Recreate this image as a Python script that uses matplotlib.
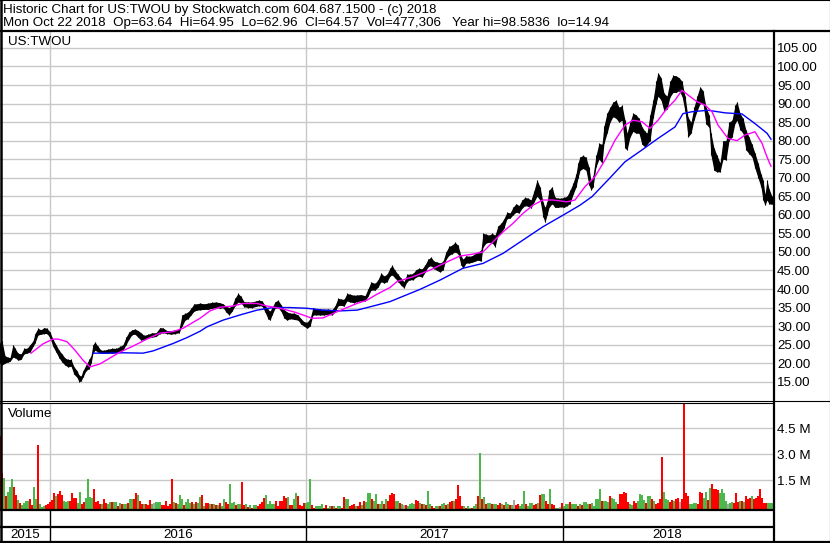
import numpy as np
import matplotlib
matplotlib.use("Agg")
import matplotlib.pyplot as plt

plt.rcParams['font.family'] = ['Liberation Sans', 'DejaVu Sans']

W, H = 830, 543

title_line1 = "Historic Chart for US:TWOU by Stockwatch.com 604.687.1500 - (c) 2018"
title_line2 = ("Mon Oct 22 2018  Op=63.64  Hi=64.95  Lo=62.96  Cl=64.57  "
               "Vol=477,306   Year hi=98.5836  lo=14.94")
symbol = "US:TWOU"

# trading-day index of first session of each year (chart starts mid Oct 2015)
year_labels = ["2015", "2016", "2017", "2018"]
year_starts = [50, 306, 563]
last_day = 772

# daily price envelope (day index, high, low)
price_days = [0, 2, 5, 8, 10, 13, 15, 18, 21, 24, 27, 30, 33, 35, 38, 41, 44, 47, 50, 53,
              56, 59, 62, 65, 68, 71, 74, 77, 79, 81, 83, 86, 89, 91, 93, 95, 98, 101, 104, 108,
              112, 116, 120, 123, 126, 129, 132, 135, 138, 141, 144, 148, 152, 156, 160, 163, 167, 171, 175, 179,
              182, 185, 188, 191, 194, 197, 200, 204, 208, 212, 216, 220, 223, 226, 229, 232, 235, 238, 241, 244,
              248, 252, 256, 259, 262, 265, 268, 270, 272, 275, 278, 281, 284, 287, 290, 294, 298, 301, 304, 307,
              310, 313, 316, 320, 324, 328, 332, 335, 338, 341, 344, 347, 350, 354, 357, 361, 365, 368, 371, 375,
              378, 381, 384, 387, 390, 392, 395, 398, 401, 404, 407, 410, 413, 416, 419, 422, 425, 428, 431, 434,
              437, 440, 443, 446, 449, 452, 455, 458, 461, 463, 466, 469, 472, 475, 478, 481, 483, 486, 489, 492,
              495, 498, 501, 504, 507, 510, 513, 516, 519, 522, 525, 528, 531, 534, 537, 540, 543, 545, 547, 549,
              552, 555, 558, 561, 564, 567, 570, 573, 576, 578, 580, 583, 586, 589, 591, 593, 596, 599, 602, 604,
              607, 610, 613, 616, 619, 622, 625, 627, 630, 633, 636, 639, 642, 645, 647, 650, 653, 656, 658, 661,
              664, 667, 670, 673, 676, 679, 682, 685, 688, 691, 694, 697, 700, 703, 706, 709, 711, 714, 717, 720,
              723, 726, 729, 732, 735, 737, 740, 743, 746, 749, 752, 755, 758, 761, 763, 765, 767, 769, 772]
price_hi = [25.5, 26.0, 22.0, 21.6, 21.5, 25.0, 24.0, 22.7, 22.5, 24.0, 24.0, 25.0, 26.0, 28.0, 29.4, 29.0, 29.6, 29.4, 28.4, 26.4,
            25.0, 23.5, 22.5, 21.4, 21.0, 21.0, 19.0, 18.0, 16.8, 16.5, 18.0, 19.5, 21.0, 22.0, 25.0, 25.7, 24.5, 23.5, 23.5, 23.8,
            24.0, 24.0, 24.5, 25.0, 27.0, 28.4, 29.0, 29.2, 28.8, 28.2, 27.5, 27.8, 28.2, 28.2, 29.6, 29.5, 28.8, 28.8, 29.0, 29.2,
            33.0, 33.4, 33.8, 34.8, 36.0, 36.0, 36.2, 36.0, 36.2, 36.4, 36.5, 36.3, 36.0, 35.4, 35.0, 35.5, 37.5, 38.8, 38.0, 36.6,
            36.5, 36.5, 36.8, 37.0, 36.8, 35.6, 34.5, 34.0, 35.0, 36.5, 37.0, 35.8, 34.5, 33.8, 33.5, 33.5, 33.0, 32.0, 31.2, 31.0,
            32.0, 35.0, 34.6, 34.6, 34.5, 34.6, 34.4, 35.5, 37.5, 37.3, 37.2, 38.8, 38.6, 38.3, 38.4, 38.5, 38.2, 40.0, 41.9, 41.5,
            42.5, 44.3, 43.5, 44.0, 45.6, 46.4, 45.0, 44.0, 42.9, 42.0, 44.0, 44.0, 44.2, 45.2, 45.6, 45.4, 46.5, 48.0, 48.6, 47.5,
            47.3, 47.0, 47.5, 50.0, 51.5, 51.8, 52.6, 51.8, 49.0, 48.0, 49.0, 48.8, 49.0, 49.5, 50.0, 50.5, 55.0, 54.8, 54.5, 55.0,
            54.5, 57.0, 57.7, 59.0, 60.7, 60.5, 62.0, 63.0, 62.5, 64.0, 64.7, 64.5, 64.0, 66.5, 69.4, 67.5, 63.4, 62.0, 63.5, 66.6,
            67.6, 64.7, 64.5, 64.5, 64.7, 65.0, 66.6, 68.5, 71.0, 74.0, 75.6, 76.0, 75.5, 72.8, 69.0, 70.5, 76.0, 79.3, 79.0, 84.0,
            87.4, 89.0, 90.4, 90.9, 89.0, 89.5, 85.5, 82.0, 85.0, 87.4, 87.0, 86.0, 83.7, 82.5, 82.0, 87.0, 90.9, 96.0, 98.3, 97.0,
            92.8, 92.0, 96.0, 97.6, 97.5, 97.0, 96.0, 92.0, 86.3, 85.0, 89.0, 92.0, 94.5, 93.5, 89.0, 87.0, 82.0, 78.0, 76.0, 74.0,
            80.0, 80.0, 85.0, 85.5, 89.5, 90.5, 87.4, 86.0, 82.8, 81.0, 79.0, 76.6, 74.0, 71.0, 69.4, 65.5, 69.4, 67.0, 65.0]
price_lo = [20.0, 19.5, 20.0, 20.3, 20.5, 21.6, 21.5, 20.8, 21.0, 22.5, 22.7, 23.0, 24.5, 25.5, 27.6, 27.8, 28.0, 28.0, 26.8, 24.5,
            23.0, 21.5, 20.3, 19.5, 19.0, 19.2, 17.0, 16.2, 15.0, 15.2, 16.3, 18.0, 18.5, 20.0, 22.7, 23.5, 23.0, 22.7, 22.7, 22.8,
            22.7, 22.9, 23.0, 23.5, 25.0, 26.5, 27.7, 27.8, 27.0, 26.2, 26.4, 26.8, 27.0, 27.2, 28.0, 28.2, 28.0, 27.8, 28.0, 28.2,
            30.0, 31.6, 32.0, 33.0, 34.0, 34.3, 34.4, 34.5, 34.5, 34.8, 35.0, 34.8, 35.0, 33.8, 33.0, 34.0, 35.5, 36.5, 36.2, 35.2,
            35.0, 35.0, 35.3, 35.5, 35.4, 33.8, 32.0, 31.6, 33.0, 34.8, 35.0, 34.0, 32.2, 31.6, 32.0, 31.8, 31.6, 30.5, 30.0, 29.4,
            30.0, 33.0, 33.0, 33.0, 33.0, 33.2, 33.0, 33.8, 35.5, 35.6, 35.4, 36.8, 36.5, 36.3, 36.6, 36.8, 36.8, 38.0, 39.7, 39.7,
            40.5, 42.0, 41.6, 42.0, 43.5, 43.8, 43.0, 42.0, 41.0, 40.3, 42.0, 42.5, 42.5, 43.2, 43.5, 43.2, 44.5, 46.0, 46.3, 45.5,
            45.0, 44.6, 45.2, 48.0, 49.1, 49.5, 50.0, 49.5, 46.5, 45.6, 47.0, 47.0, 47.2, 47.5, 47.8, 47.5, 51.3, 52.4, 52.6, 52.5,
            51.4, 54.5, 55.0, 56.5, 59.0, 59.1, 60.0, 60.7, 60.5, 61.8, 62.5, 62.3, 61.8, 63.5, 65.0, 64.0, 59.5, 58.0, 60.0, 62.0,
            63.0, 62.0, 62.0, 62.2, 62.0, 62.5, 63.0, 65.5, 67.5, 70.0, 72.0, 72.5, 72.0, 68.0, 66.7, 67.5, 73.0, 75.0, 74.0, 79.3,
            82.0, 85.0, 86.5, 86.0, 85.0, 85.5, 78.0, 77.5, 81.0, 82.5, 82.0, 82.0, 79.0, 78.3, 79.0, 80.0, 86.0, 90.0, 92.0, 91.0,
            88.0, 88.5, 91.8, 93.0, 93.0, 93.5, 92.0, 88.0, 81.0, 82.0, 85.6, 88.0, 90.0, 90.0, 84.5, 83.6, 76.0, 72.0, 71.6, 71.6,
            75.0, 74.8, 80.0, 81.0, 84.7, 85.5, 83.0, 82.0, 77.5, 76.5, 75.6, 72.5, 70.0, 67.5, 64.0, 62.6, 64.0, 63.0, 62.8]

# short moving average (magenta)
ma_short_days = [31, 43, 53, 58, 67, 75, 83, 90, 100, 110, 120, 133, 147, 160, 173, 183, 193, 200, 210, 220,
                 233, 243, 257, 267, 280, 293, 303, 312, 323, 333, 347, 357, 367, 377, 390, 397, 413, 430, 447, 460,
                 473, 483, 493, 503, 513, 523, 533, 543, 553, 567, 575, 585, 595, 605, 615, 625, 633, 642, 650, 658,
                 667, 675, 682, 688, 697, 705, 712, 718, 728, 737, 745, 755, 762, 767, 771]
ma_short = [22.7, 25.2, 26.5, 26.5, 25.8, 23.5, 20.8, 19.0, 19.8, 21.4, 23.0, 24.6, 26.5, 28.1, 28.5, 29.4, 31.0, 32.1, 34.1, 35.1,
            35.4, 36.1, 36.1, 35.4, 34.8, 33.9, 33.0, 32.1, 32.2, 33.4, 35.0, 36.1, 37.0, 38.6, 40.4, 42.0, 43.3, 45.1, 47.3, 48.9,
            49.4, 50.0, 52.7, 55.4, 57.7, 60.4, 62.6, 64.0, 64.0, 63.5, 64.0, 67.6, 70.3, 74.8, 80.1, 84.2, 85.5, 85.1, 83.3, 85.5,
            88.7, 90.9, 93.6, 92.3, 90.5, 89.6, 87.8, 84.2, 80.6, 80.0, 81.5, 82.4, 79.3, 75.6, 73.1]

# long moving average (blue)
ma_long_days = [93, 110, 123, 143, 153, 163, 173, 187, 200, 207, 223, 240, 257, 273, 290, 307, 323, 340, 357, 373,
                390, 420, 440, 463, 483, 503, 523, 543, 563, 580, 592, 608, 625, 642, 658, 675, 683, 692, 708, 725,
                742, 755, 767, 771]
ma_long = [22.7, 22.7, 22.8, 22.7, 23.3, 24.3, 25.3, 26.9, 28.6, 29.8, 31.6, 33.0, 34.3, 35.0, 35.0, 34.8, 34.3, 34.1, 34.3, 35.4,
           36.6, 39.9, 42.4, 45.6, 46.9, 49.6, 53.2, 56.8, 59.9, 62.6, 64.9, 69.4, 74.3, 77.5, 80.6, 83.7, 87.3, 87.8, 88.2, 87.5,
           87.2, 84.6, 82.0, 80.4]

# volume in millions, one bar every second session
volume_m = [4.2, 2.1, 1.8, 0.75, 1.0, 1.3, 1.75, 1.3, 0.83, 0.52,
            0.37, 0.21, 0.37, 0.44, 0.46, 0.6, 0.25, 1.29, 0.6, 3.7,
            0.27, 0.13, 0.17, 0.25, 0.27, 0.4, 0.52, 0.94, 0.75, 0.85,
            1.04, 0.79, 0.46, 0.4, 0.44, 0.46, 0.94, 0.65, 0.65, 0.37,
            0.98, 0.27, 0.4, 0.65, 1.71, 0.71, 0.65, 1.17, 0.4, 0.46,
            0.27, 0.27, 0.6, 0.37, 0.27, 0.4, 0.4, 0.4, 0.4, 0.17,
            0.33, 0.27, 0.31, 0.31, 0.33, 0.56, 0.6, 0.6, 0.94, 0.79,
            0.46, 0.31, 0.29, 0.29, 0.25, 0.52, 0.27, 0.33, 0.4, 0.4,
            0.4, 0.25, 0.25, 0.46, 0.17, 0.27, 1.75, 0.4, 0.33, 0.27,
            0.79, 0.6, 0.21, 0.4, 0.6, 0.33, 0.4, 0.27, 0.4, 0.37,
            0.71, 0.79, 0.17, 0.33, 0.33, 0.27, 0.27, 0.27, 0.21, 0.21,
            0.37, 0.17, 0.6, 0.4, 0.27, 1.42, 0.37, 0.4, 0.21, 0.27,
            0.27, 1.58, 0.21, 0.27, 0.13, 0.21, 0.08, 0.21, 0.21,
            0.17, 0.27, 0.4, 0.65, 0.8, 0.27, 0.46, 0.31, 0.31, 0.46,
            0.17, 0.46, 0.46, 0.75, 0.65, 0.71, 0.25, 0.25, 0.56, 0.94,
            0.75, 0.21, 0.17, 0.37, 0.37, 0.4, 1.71, 0.25, 0.08, 0.17,
            0.17, 0.17, 0.31, 0.08, 0.25, 0.08, 0.17, 0.17, 0.17, 0.08,
            0.17, 0.17, 0.08, 0.71, 0.6, 0.6, 0.17, 0.25, 0.31, 0.17,
            0.17, 0.4, 0.21, 0.46, 0.4, 0.94, 0.9, 0.6, 0.46, 0.88,
            0.27, 0.27, 0.46, 0.31, 0.6, 0.46, 0.79, 0.94, 0.85, 0.46,
            0.46, 0.37, 0.27, 0.21, 0.21, 0.17, 0.27, 0.37, 0.27, 0.52,
            0.46, 0.37, 0.27, 0.27, 0.21, 1.04, 0.27, 0.17, 0.08, 0.17,
            0.17, 0.17, 0.27, 0.37, 0.21, 0.27, 0.4, 0.46, 0.46, 0.56,
            1.37, 0.75, 0.17, 0.17, 0.08, 0.17, 0.08, 0.08, 0.17, 0.27,
            0.75, 3.25, 0.6, 0.71, 0.31, 0.37, 0.33, 0.31, 0.27, 0.31,
            0.21, 0.37, 0.27, 0.21, 0.4, 0.27, 0.21, 0.21, 0.52, 0.21,
            0.27, 0.17, 0.27, 1.04, 0.27, 0.17, 0.37, 0.33, 0.21, 0.27,
            0.37, 0.79, 0.85, 0.88, 0.46, 0.27, 1.13, 0.27, 0.21, 0.08,
            0.08, 0.13, 0.37, 0.17, 0.27, 0.27, 0.4, 0.27, 0.31, 0.27,
            0.17, 0.31, 0.21, 0.4, 0.4, 0.27, 0.27, 0.37, 0.17, 0.6,
            0.6, 1.17, 0.46, 0.44, 0.44, 0.4, 0.75, 0.65, 0.56, 0.4,
            0.31, 0.85, 0.85, 0.98, 0.94, 0.4, 0.27, 0.21, 0.46, 0.37,
            0.46, 0.85, 0.79, 0.52, 0.37, 0.75, 0.75, 0.56, 0.46, 0.27,
            0.37, 0.56, 3.0, 0.98, 0.56, 0.52, 0.4, 0.52, 0.46, 0.6,
            0.65, 0.4, 0.56, 6.5, 0.94, 0.75, 0.27, 0.31, 0.37, 0.33,
            0.27, 0.98, 0.94, 0.65, 0.98, 0.52, 1.23, 1.42, 1.13, 1.13,
            1.1, 0.9, 1.13, 0.94, 0.46, 0.27, 0.33, 0.4, 0.37, 0.9,
            0.4, 0.46, 0.46, 0.4, 0.75, 0.56, 0.65, 0.75, 0.6, 0.65,
            0.75, 1.13, 0.65, 0.37, 0.37, 0.37, 0.37, 0.37]
# r = down day, g = up day, k = unchanged
volume_dir = ("rrgrgggrrg" "rggggrrggr" "gggrrrrrgr" "rrgggrrrrg" "grrggggrrr"
              "rgrrggrggr" "grggrggrrg" "rrgrrrgkgg" "grrrrrrgrg" "ggrgggrgrg"
              "grgrrgrgrg" "rggrrgggrg" "grrgrgrgg"
              "rrrrgggggr" "rrrrrgrrgg" "rrrrgggrrg" "gggrrggrgr" "ggrrggrrrg"
              "rrgrgggrgg" "rggrgrrrrg" "grgkrggggr" "rgrgrggrrg" "grggrgrrgr"
              "rrrgrggrgg" "rgrgrggrgg" "rrgrggrgkr"
              "rgggrgggrr" "grggrrgrrg" "gkrgggrggg" "rgrgggrggg" "ggrgggrggg"
              "rrrrrrggrr" "ggggrggrgr" "rrrgggrrgr" "rkrrrrgggg" "rrrggrgrrr"
              "rggggkggrr" "rgrgrrrgrr" "rrrrrggg")

vol_days = np.arange(0, last_day + 1, 2)

price_ticks = list(range(15, 106, 5))
volume_ticks = [1.5, 3.0, 4.5]

grid_col = "#c8c8c8"
dir_colors = {"r": "#ff0000", "g": "#4cb84c", "k": "#a8a8a8"}


def px_box(x0, y0, x1, y1):
    return [x0 / W, 1 - y1 / H, (x1 - x0) / W, (y1 - y0) / H]


fig = plt.figure(figsize=(W / 100, H / 100), dpi=100)

# price panel
ax_p = fig.add_axes(px_box(0, 32, 773, 400))
ax_p.set_xlim(0, 773)
ax_p.set_ylim(10.07, 109.3)
for t in price_ticks:
    ax_p.axhline(t, color=grid_col, lw=1, zorder=0)
for d in year_starts:
    ax_p.axvline(d, color=grid_col, lw=1, zorder=0)
ax_p.fill_between(price_days, price_lo, price_hi, color="black", lw=0, zorder=2)
ax_p.vlines(price_days, price_lo, price_hi, color="black", lw=0.8, zorder=2)
ax_p.plot(ma_long_days, ma_long, color="#0000ff", lw=1, zorder=3)
ax_p.plot(ma_short_days, ma_short, color="#ff00ff", lw=1, zorder=4)
ax_p.yaxis.tick_right()
ax_p.set_yticks(price_ticks)
ax_p.set_yticklabels([f"{t:.2f}" for t in price_ticks])
ax_p.set_xticks([])
ax_p.tick_params(axis="y", length=0, pad=3, labelsize=9.6)
for s in ax_p.spines.values():
    s.set_visible(False)
ax_p.text(8, 0.988, symbol, transform=ax_p.get_xaxis_transform(), fontsize=9.6,
          va="top", ha="left")

# volume panel
ax_v = fig.add_axes(px_box(0, 403, 773, 509))
ax_v.set_xlim(0, 773)
ax_v.set_ylim(-0.16, 5.97)
for t in volume_ticks:
    ax_v.axhline(t, color=grid_col, lw=1, zorder=0)
for d in year_starts:
    ax_v.axvline(d, color=grid_col, lw=1, zorder=0)
ax_v.bar(vol_days, volume_m, width=2.0, bottom=-0.16,
         color=[dir_colors[c] for c in volume_dir], lw=0, zorder=2)
ax_v.yaxis.tick_right()
ax_v.set_yticks(volume_ticks)
ax_v.set_yticklabels([f"{t:.1f} M" for t in volume_ticks])
ax_v.set_xticks([])
ax_v.tick_params(axis="y", length=0, pad=3, labelsize=9.6)
for s in ax_v.spines.values():
    s.set_visible(False)
ax_v.text(8, 0.955, "Volume", transform=ax_v.get_xaxis_transform(), fontsize=9.6,
          va="top", ha="left")

# date strip with year boxes
ax_d = fig.add_axes(px_box(0, 510, 773, 541))
ax_d.set_xlim(0, 773)
ax_d.set_ylim(0, 1)
ax_d.axis("off")
for d in year_starts:
    ax_d.axvline(d, color="black", lw=1)
bounds = [0] + year_starts + [last_day]
for lab, a, b in zip(year_labels, bounds[:-1], bounds[1:]):
    ax_d.text((a + b) / 2, 0.19, lab, ha="center", va="center", fontsize=9.6)

# frame lines and header
ov = fig.add_axes([0, 0, 1, 1], facecolor="none")
ov.set_xlim(0, W)
ov.set_ylim(H, 0)
ov.axis("off")
ov.plot([0, W], [31, 31], color="black", lw=1.6)
ov.plot([773.5, 773.5], [31, H], color="black", lw=1.6)
ov.plot([0, W], [400.5, 400.5], color="black", lw=0.8)
ov.plot([0, 773], [402.8, 402.8], color="black", lw=0.8)
ov.plot([0, 773], [509.8, 509.8], color="black", lw=1.6)
ov.plot([0, 773], [526.5, 526.5], color="black", lw=1.6)
ov.plot([1, 1], [0, H], color="black", lw=1.8)
ov.plot([0, W], [0.4, 0.4], color="black", lw=0.8)
ov.plot([0, W], [542, 542], color="black", lw=1.6)
ov.plot([829.5, 829.5], [0, H], color="black", lw=0.8)
ov.text(3, 12.5, title_line1, fontsize=9.65, va="baseline", ha="left")
ov.text(3, 26.3, title_line2, fontsize=9.65, va="baseline", ha="left")

fig.savefig("out.png", dpi=100)
